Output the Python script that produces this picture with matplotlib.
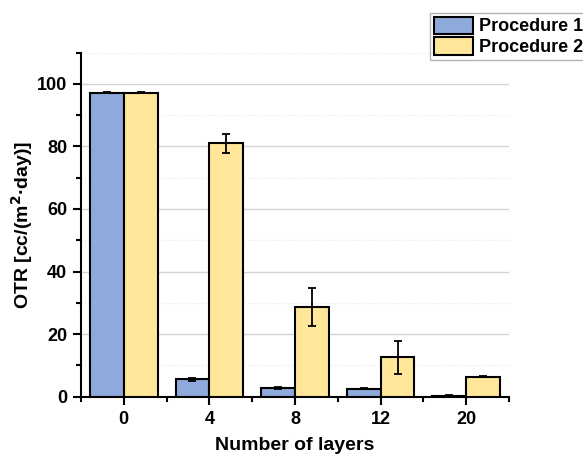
import matplotlib
matplotlib.use("Agg")
import matplotlib.pyplot as plt
import numpy as np
from matplotlib.ticker import FixedLocator

plt.rcParams['font.family'] = ['Liberation Sans', 'DejaVu Sans']

categories = ["0", "4", "8", "12", "20"]
proc1 = [97.2, 5.5, 2.8, 2.6, 0.3]
proc1_err = [0.3, 0.4, 0.4, 0.2, 0.1]
proc2 = [97.2, 81.0, 28.7, 12.6, 6.4]
proc2_err = [0.3, 3.0, 6.0, 5.3, 0.2]
series_names = ["Procedure 1", "Procedure 2"]

fig = plt.figure(figsize=(5.83, 4.55), dpi=100)
ax = fig.add_axes([81/583, 1-396.7/455, (509-81)/583, (396.7-52.5)/455])

x = np.arange(len(categories))
w = 0.395
ekw = dict(elinewidth=1.3, capthick=1.3, capsize=2.7, ecolor='black')
b1 = ax.bar(x - w/2, proc1, w, yerr=proc1_err, color='#8EA9DB', edgecolor='black',
            linewidth=1.5, error_kw=ekw, label=series_names[0], zorder=3)
b2 = ax.bar(x + w/2, proc2, w, yerr=proc2_err, color='#FFE699', edgecolor='black',
            linewidth=1.5, error_kw=ekw, label=series_names[1], zorder=3)

ax.set_xlim(-0.5, 4.5)
ax.set_ylim(0, 110)
ax.set_xticks(x)
ax.set_xticklabels(categories)
ax.xaxis.set_minor_locator(FixedLocator(np.arange(-0.5, 4.6, 1.0)))
ax.yaxis.set_major_locator(FixedLocator([0, 20, 40, 60, 80, 100]))
ax.yaxis.set_minor_locator(FixedLocator([10, 30, 50, 70, 90, 110]))

for s in ['top', 'right']:
    ax.spines[s].set_visible(False)
for s in ['left', 'bottom']:
    ax.spines[s].set_linewidth(1.5)

ax.tick_params(axis='both', which='major', direction='out', length=6, width=1.5,
               labelsize=13, pad=4)
ax.tick_params(axis='both', which='minor', direction='out', length=3.5, width=1.5)
for lab in ax.get_xticklabels() + ax.get_yticklabels():
    lab.set_fontweight('bold')

ax.grid(True, which='major', axis='y', color='#d4d4d4', linewidth=1.0, zorder=0)
ax.grid(True, which='minor', axis='y', color='#e4e4e4', linewidth=0.8,
        linestyle=(0, (1, 2)), zorder=0)
ax.set_axisbelow(True)

ax.set_ylabel("OTR [cc/(m$^\\mathbf{2}$·day)]", fontsize=14, fontweight='bold', labelpad=1)
ax.set_xlabel("Number of layers", fontsize=14, fontweight='bold', labelpad=7)

leg = fig.legend(handles=[b1, b2], labels=series_names, loc='upper left',
                 bbox_to_anchor=(430/583, 1-13/455),
                 prop={'weight': 'bold', 'size': 13},
                 frameon=True, fancybox=False, edgecolor='#a0a0a0',
                 handlelength=2.2, handleheight=1.1, labelspacing=0.1,
                 borderpad=0.2, handletextpad=0.3, borderaxespad=0)
leg.get_frame().set_linewidth(1.0)

fig.savefig("out.png", dpi=100)
